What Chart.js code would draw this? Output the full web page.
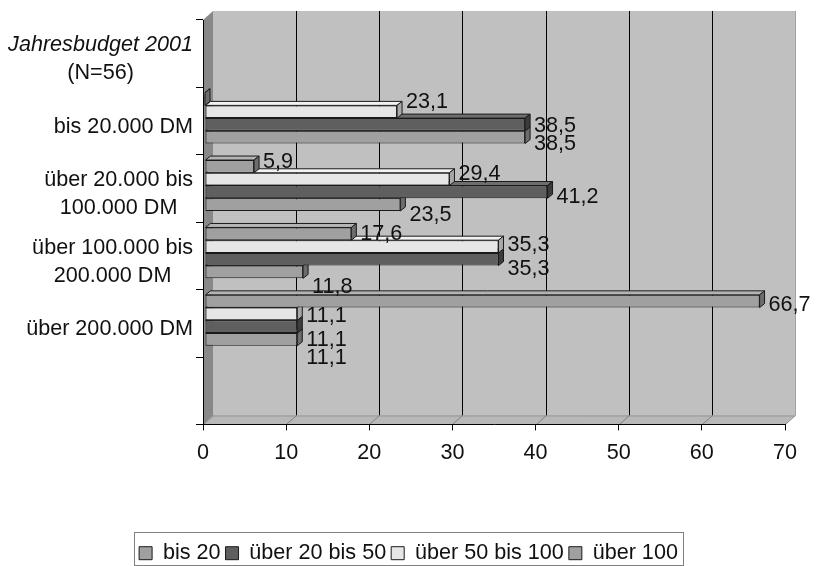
<!DOCTYPE html>
<html>
<head>
<meta charset="utf-8">
<script src="https://cdn.jsdelivr.net/npm/chart.js@4.4.1/dist/chart.umd.min.js"></script>
<style>
  html, body { margin: 0; padding: 0; background: #fff; }
  #wrap { width: 817px; height: 566px; }
</style>
</head>
<body>
<div id="wrap"><canvas id="chart" width="817" height="566"></canvas></div>
<script>
// categories, top to bottom (first slot holds the axis title, last slot stays empty)
const categories = [
  ['Jahresbudget 2001', '(N=56)'],
  ['bis 20.000 DM'],
  ['über 20.000 bis', '100.000 DM'],
  ['über 100.000 bis', '200.000 DM'],
  ['über 200.000 DM'],
  ['']
];

// percent values per category
const bis20         = [null, 38.5, 23.5, 11.8, 11.1, null];
const ueber20bis50  = [null, 38.5, 41.2, 35.3, 11.1, null];
const ueber50bis100 = [null, 23.1, 29.4, 35.3, 11.1, null];
const ueber100      = [null, 0,    5.9, 17.6, 66.7, null];

const xTicks = [0, 10, 20, 30, 40, 50, 60, 70];

const FONT = '"Liberation Sans", Arial, sans-serif';
const FS = 21.6;
const TEXT = '#111';

// depth of the walls and of the bars
const WALL = { dx: 10, dy: 9 };
const BAR = { dx: 5, dy: 4 };

// vertical placement of the value labels, per dataset (top bar first),
// drifting slightly downwards the lower the bar sits
const labelShift = [-8.8, -11, -0.8, 4];
const labelDrift = 0.06;

function fmt(v) {
  return v.toFixed(1).replace('.', ',');
}

function poly(ctx, pts, fill, stroke) {
  ctx.beginPath();
  ctx.moveTo(pts[0][0], pts[0][1]);
  for (let i = 1; i < pts.length; i++) ctx.lineTo(pts[i][0], pts[i][1]);
  ctx.closePath();
  if (fill) { ctx.fillStyle = fill; ctx.fill(); }
  if (stroke) { ctx.strokeStyle = stroke; ctx.lineWidth = 1; ctx.stroke(); }
}

// walls, floor, back grid, 3d bar faces, labels
const wallsPlugin = {
  id: 'walls',
  beforeDraw(chart) {
    const ctx = chart.ctx;
    const { left, right, top, bottom } = chart.chartArea;
    const { dx, dy } = WALL;
    const xs = chart.scales.x;
    ctx.save();
    ctx.fillStyle = '#c0c0c0';
    ctx.fillRect(left + dx, top - dy, right - left, bottom - top);
    // left wall
    poly(ctx, [[left, top], [left + dx, top - dy], [left + dx, bottom - dy], [left, bottom]], '#888888', null);
    // floor
    poly(ctx, [[left, bottom], [left + dx, bottom - dy], [right + dx, bottom - dy], [right, bottom]], '#b8b8b8', null);
    ctx.lineWidth = 1;
    ctx.strokeStyle = '#909090';
    ctx.beginPath();
    ctx.moveTo(left + dx, bottom - dy + 0.5);
    ctx.lineTo(right + dx, bottom - dy + 0.5);
    ctx.stroke();
    xTicks.forEach(v => {
      const px = Math.round(xs.getPixelForValue(v)) + 0.5;
      if (v > 0 && v < xTicks[xTicks.length - 1]) {
        ctx.strokeStyle = '#000';
        ctx.beginPath();
        ctx.moveTo(px + dx, top - dy);
        ctx.lineTo(px + dx, bottom - dy);
        ctx.stroke();
      }
      ctx.strokeStyle = '#808080';
      ctx.beginPath();
      ctx.moveTo(px, bottom);
      ctx.lineTo(px + dx, bottom - dy);
      ctx.stroke();
    });
    // right edge of the back wall
    ctx.strokeStyle = '#a0a0a0';
    ctx.beginPath();
    ctx.moveTo(right + dx + 0.5, top - dy);
    ctx.lineTo(right + dx + 0.5, bottom - dy);
    ctx.stroke();
    ctx.restore();
  },
  beforeDatasetsDraw(chart) {
    chart.ctx.save();
    chart.ctx.translate(2, -3);
  },
  afterDatasetDraw(chart, args) {
    const ctx = chart.ctx;
    const ds = chart.data.datasets[args.index];
    const { dx, dy } = BAR;
    args.meta.data.forEach((el, i) => {
      if (ds.data[i] == null) return;
      const bx = Math.min(el.x, el.base), ex = Math.max(el.x, el.base);
      const t = el.y - el.height / 2, b = el.y + el.height / 2;
      poly(ctx, [[bx, t], [bx + dx, t - dy], [ex + dx, t - dy], [ex, t]], ds.topColor, '#1a1a1a');
      poly(ctx, [[ex, t], [ex + dx, t - dy], [ex + dx, b - dy], [ex, b]], ds.sideColor, '#1a1a1a');
    });
  },
  afterDatasetsDraw(chart) {
    const ctx = chart.ctx;
    const y0 = chart.scales.y.getPixelForTick(1);
    ctx.font = FS + 'px ' + FONT;
    ctx.fillStyle = TEXT;
    ctx.textAlign = 'left';
    ctx.textBaseline = 'alphabetic';
    chart.data.datasets.forEach((ds, di) => {
      const meta = chart.getDatasetMeta(di);
      meta.data.forEach((el, i) => {
        const v = ds.data[i];
        if (v == null || v === 0) return;
        const shift = labelShift[di] + labelDrift * (el.y - y0);
        ctx.fillText(fmt(v), el.x + 9, el.y + shift + 7.7);
      });
    });
    ctx.restore();
  },
  afterDraw(chart) {
    const ctx = chart.ctx;
    const ys = chart.scales.y;
    ctx.save();
    ctx.fillStyle = TEXT;
    ctx.textAlign = 'center';
    ctx.textBaseline = 'alphabetic';
    const fontFor = (i, j) => (i === 0 && j === 0 ? 'italic ' : '') + FS + 'px ' + FONT;
    const rightEdge = ys.right - 10;
    categories.forEach((lines, i) => {
      let w = 0;
      lines.forEach((s, j) => { ctx.font = fontFor(i, j); w = Math.max(w, ctx.measureText(s).width); });
      const cx = rightEdge - w / 2;
      const cy = ys.getPixelForTick(i) + 4;
      lines.forEach((s, j) => {
        ctx.font = fontFor(i, j);
        ctx.fillText(s, cx, cy + 7.7 + (j - (lines.length - 1) / 2) * 28);
      });
    });
    // frame round the legend
    const lg = chart.legend;
    const hb = lg.legendHitBoxes;
    const l = Math.min(...hb.map(h => h.left)) - 5;
    const r = Math.max(...hb.map(h => h.left + h.width)) + 5;
    const t = lg.top - 5;
    const b = Math.min(lg.bottom, chart.height - 1);
    ctx.strokeStyle = '#808080';
    ctx.lineWidth = 1;
    ctx.strokeRect(Math.round(l) + 0.5, Math.round(t) + 0.5, Math.round(r - l), Math.round(b - t));
    ctx.restore();
  }
};

const series = [
  { label: 'über 100', data: ueber100, backgroundColor: '#a0a0a0', topColor: '#b4b4b4', sideColor: '#6c6c6c' },
  { label: 'über 50 bis 100', data: ueber50bis100, backgroundColor: '#e6e6e6', topColor: '#f2f2f2', sideColor: '#a8a8a8' },
  { label: 'über 20 bis 50', data: ueber20bis50, backgroundColor: '#5f5f5f', topColor: '#6e6e6e', sideColor: '#3c3c3c' },
  { label: 'bis 20', data: bis20, backgroundColor: '#a0a0a0', topColor: '#b4b4b4', sideColor: '#6c6c6c' }
];

const ctx = document.getElementById('chart').getContext('2d');
new Chart(ctx, {
  type: 'bar',
  data: {
    labels: categories,
    datasets: series.map(s => Object.assign({
      borderColor: '#1a1a1a',
      borderWidth: 1,
      borderSkipped: false,
      barPercentage: 1,
      categoryPercentage: 0.755,
      clip: false
    }, s))
  },
  options: {
    indexAxis: 'y',
    responsive: false,
    animation: false,
    devicePixelRatio: 1,
    layout: { padding: { left: 32, right: 32, top: 20, bottom: -8 } },
    scales: {
      x: {
        min: xTicks[0],
        max: xTicks[xTicks.length - 1],
        ticks: { stepSize: 10, color: TEXT, font: { family: FONT, size: FS }, padding: 10 },
        grid: { drawOnChartArea: false, drawTicks: true, tickLength: 6, color: '#000' },
        border: { color: '#000', width: 1 },
        afterFit(scale) { scale.height = 113; }
      },
      y: {
        ticks: { display: false },
        grid: { offset: true, drawOnChartArea: false, drawTicks: true, tickLength: 7, color: '#000' },
        border: { color: '#000', width: 1 },
        afterFit(scale) { scale.width = 171; }
      }
    },
    plugins: {
      legend: {
        position: 'bottom',
        reverse: true,
        labels: {
          boxWidth: 13,
          boxHeight: 13,
          padding: 5,
          color: TEXT,
          font: { family: FONT, size: FS }
        }
      },
      tooltip: { enabled: false }
    }
  },
  plugins: [wallsPlugin]
});
</script>
</body>
</html>
